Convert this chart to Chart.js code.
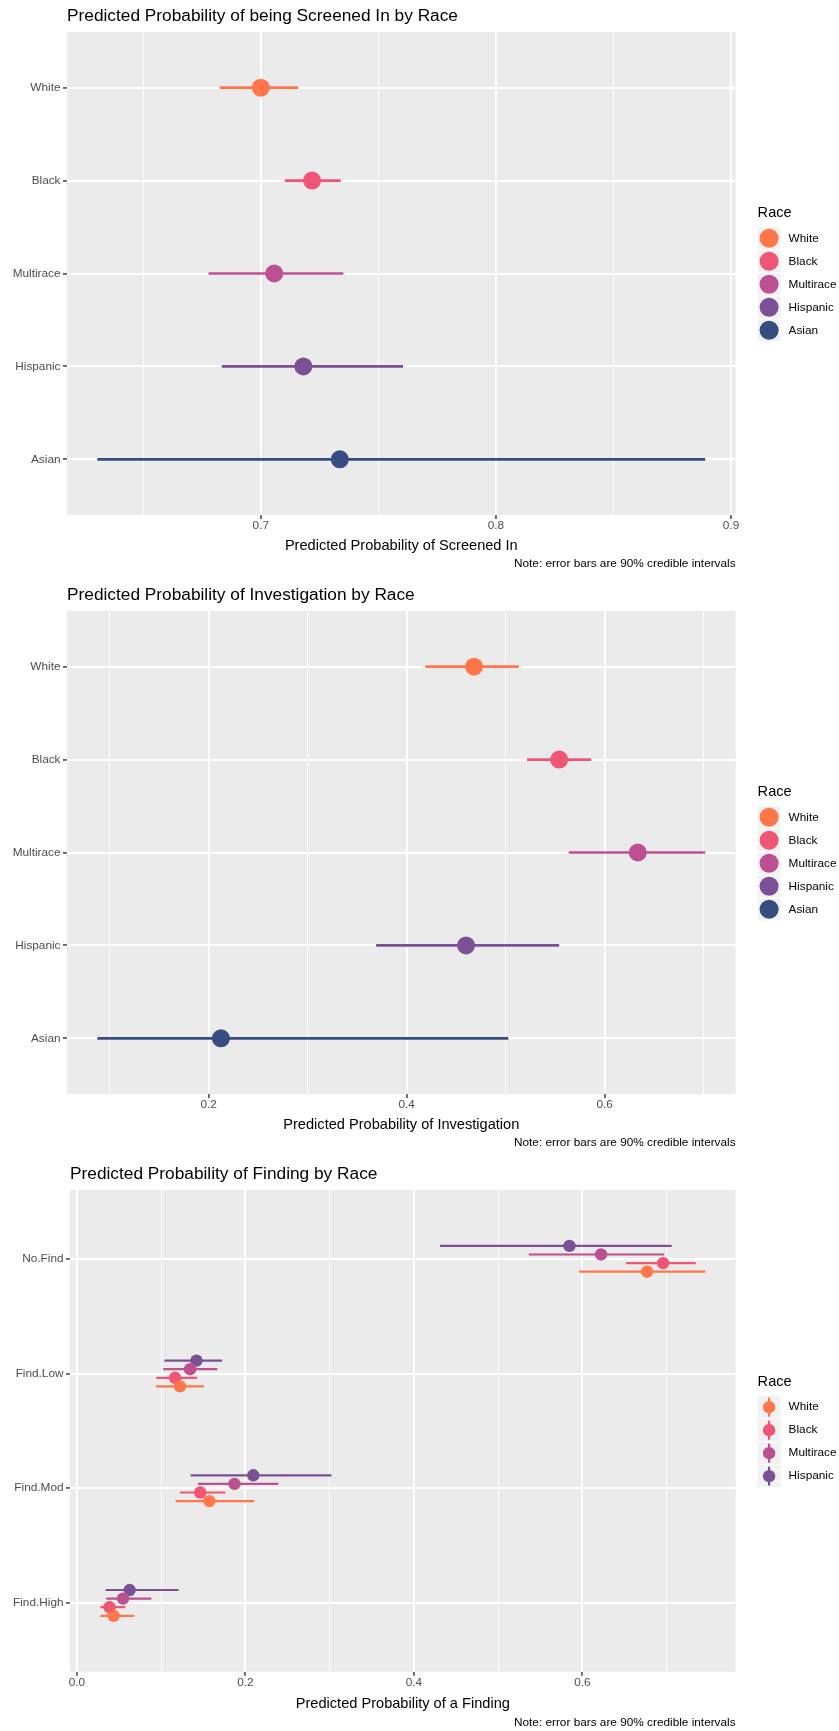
<!DOCTYPE html>
<html>
<head>
<meta charset="utf-8">
<title>Predicted probabilities by race</title>
<script src="https://cdn.jsdelivr.net/npm/chart.js@4.4.1/dist/chart.umd.min.js"></script>
<style>
  html, body { margin: 0; padding: 0; background: #fff; }
  canvas { display: block; }
</style>
</head>
<body>
<canvas id="screenChart" width="839" height="579"></canvas>
<canvas id="investChart" width="839" height="579"></canvas>
<canvas id="findChart" width="839" height="573"></canvas>
<script>
// races and colours shared by the three panels
var races = ['White', 'Black', 'Multirace', 'Hispanic', 'Asian'];
var raceColors = ['#ff764a', '#ef5675', '#bc5090', '#7a5195', '#374c80'];

// panel 1 - screened in (estimate + 90% interval per race)
var screenEst = [0.7000, 0.7218, 0.7057, 0.7181, 0.7336];
var screenLow = [0.6825, 0.7102, 0.6778, 0.6834, 0.6305];
var screenHigh = [0.7159, 0.7340, 0.7351, 0.7605, 0.8890];
var screenTicks = [0.7, 0.8, 0.9];
var screenMinor = [0.65, 0.75, 0.85];

// panel 2 - investigation
var investEst = [0.4681, 0.5541, 0.6335, 0.4600, 0.2124];
var investLow = [0.4189, 0.5216, 0.5638, 0.3692, 0.0876];
var investHigh = [0.5135, 0.5865, 0.7016, 0.5541, 0.5027];
var investTicks = [0.2, 0.4, 0.6];
var investMinor = [0.1, 0.3, 0.5, 0.7];

// panel 3 - finding; one row per race (White, Black, Multirace, Hispanic),
// one column per finding level
var findCats = ['No.Find', 'Find.Low', 'Find.Mod', 'Find.High'];
var findRaces = ['White', 'Black', 'Multirace', 'Hispanic'];
var findEst = [
    [0.6767, 0.1223, 0.1572, 0.0435],
    [0.6958, 0.1165, 0.1464, 0.0387],
    [0.6221, 0.1343, 0.1870, 0.0547],
    [0.5846, 0.1419, 0.2093, 0.0626]
];
var findLow = [
    [0.5961, 0.0937, 0.1172, 0.0277],
    [0.6519, 0.0943, 0.1223, 0.0280],
    [0.5363, 0.1026, 0.1438, 0.0348],
    [0.4309, 0.1038, 0.1349, 0.0340]
];
var findHigh = [
    [0.7459, 0.1508, 0.2105, 0.0681],
    [0.7345, 0.1426, 0.1762, 0.0574],
    [0.6971, 0.1667, 0.2391, 0.0883],
    [0.7059, 0.1724, 0.3020, 0.1207]
];
var findTicks = [0, 0.2, 0.4, 0.6];
var findMinor = [0.1, 0.3, 0.5, 0.7];

var noteText = 'Note: error bars are 90% credible intervals';
var fontFamily = '"Liberation Sans", Arial, Helvetica, sans-serif';

Chart.defaults.font.family = fontFamily;

// grey panel behind the grid
var panelBackground = {
    id: 'panelBackground',
    beforeDraw: function (chart) {
        var a = chart.chartArea;
        var ctx = chart.ctx;
        ctx.save();
        ctx.fillStyle = '#ebebeb';
        ctx.fillRect(a.left, a.top, a.right - a.left, a.bottom - a.top);
        ctx.restore();
    }
};

// ggplot style legend on the right, centred on the panel
var raceLegend = {
    id: 'raceLegend',
    afterDraw: function (chart, args, opts) {
        var ctx = chart.ctx;
        var a = chart.chartArea;
        var keyH = 23, titleH = 21.6;
        var n = opts.labels.length;
        var top = (a.top + a.bottom) / 2 - (titleH + n * keyH) / 2;
        var x = a.right + 22;
        ctx.save();
        ctx.textAlign = 'left';
        ctx.textBaseline = 'middle';
        ctx.fillStyle = '#000';
        ctx.font = '14.6px ' + fontFamily;
        ctx.fillText(opts.title, x, top + 8);
        for (var i = 0; i < n; i++) {
            var ky = top + titleH + i * keyH;
            var cx = x + 11.5, cy = ky + keyH / 2;
            ctx.fillStyle = '#f2f2f2';
            ctx.fillRect(x, ky + 0.5, 23, keyH - 1);
            if (opts.glyph === 'pointrange') {
                ctx.strokeStyle = opts.colors[i];
                ctx.lineWidth = 2.2;
                ctx.beginPath();
                ctx.moveTo(cx, ky + 2);
                ctx.lineTo(cx, ky + keyH - 2);
                ctx.stroke();
            }
            ctx.fillStyle = opts.colors[i];
            ctx.beginPath();
            ctx.arc(cx, cy, opts.radius, 0, Math.PI * 2);
            ctx.fill();
            ctx.fillStyle = '#000';
            ctx.font = '11.8px ' + fontFamily;
            ctx.fillText(opts.labels[i], x + 31, cy);
        }
        ctx.restore();
    }
};

// ggplot adds 5% of the data range on each side
function expandRange(lows, highs) {
    var lo = Math.min.apply(null, lows);
    var hi = Math.max.apply(null, highs);
    var pad = (hi - lo) * 0.05;
    return { min: lo - pad, max: hi + pad };
}

function flat(rows) {
    return [].concat.apply([], rows);
}

function buildChart(canvasId, setup) {
    var range = expandRange(setup.lows, setup.highs);
    var major = setup.ticks;
    var allTicks = major.concat(setup.minor).sort(function (p, q) { return p - q; });

    function isMajor(v) {
        return major.indexOf(v) >= 0;
    }

    return new Chart(document.getElementById(canvasId), {
        type: 'scatter',
        data: { datasets: setup.datasets },
        options: {
            responsive: false,
            animation: false,
            devicePixelRatio: 1,
            events: [],
            layout: {
                padding: { left: 0, right: 103.4, top: 0, bottom: setup.bottomPad }
            },
            scales: {
                x: {
                    type: 'linear',
                    min: range.min,
                    max: range.max,
                    afterBuildTicks: function (scale) {
                        scale.ticks = allTicks.map(function (v) { return { value: v }; });
                    },
                    afterFit: function (scale) {
                        scale.height = setup.axisHeight;
                    },
                    ticks: {
                        autoSkip: false,
                        maxRotation: 0,
                        padding: 0,
                        color: '#4d4d4d',
                        font: { size: 11.8 },
                        callback: function (v) {
                            return isMajor(v) ? v.toFixed(1) : '';
                        }
                    },
                    grid: {
                        color: '#ffffff',
                        lineWidth: function (c) { return isMajor(c.tick.value) ? 1.9 : 0.95; },
                        tickColor: function (c) { return isMajor(c.tick.value) ? '#333333' : 'rgba(0,0,0,0)'; },
                        tickLength: 4,
                        tickWidth: 1.4
                    },
                    border: { display: false },
                    title: {
                        display: true,
                        text: setup.xTitle,
                        color: '#000',
                        font: { size: 14.6 },
                        padding: 0
                    }
                },
                y: {
                    type: 'linear',
                    min: -0.6,
                    max: setup.cats.length - 0.4,
                    reverse: true,
                    afterBuildTicks: function (scale) {
                        scale.ticks = setup.cats.map(function (c, i) { return { value: i }; });
                    },
                    afterFit: function (scale) {
                        scale.width = setup.leftWidth;
                    },
                    ticks: {
                        autoSkip: false,
                        padding: 2.5,
                        color: '#4d4d4d',
                        font: { size: 11.8 },
                        callback: function (v) { return setup.cats[v]; }
                    },
                    grid: {
                        color: '#ffffff',
                        lineWidth: 1.9,
                        tickColor: '#333333',
                        tickLength: 4,
                        tickWidth: 1.4
                    },
                    border: { display: false }
                }
            },
            plugins: {
                legend: { display: false },
                tooltip: { enabled: false },
                title: {
                    display: true,
                    text: setup.title,
                    align: 'start',
                    fullSize: false,
                    color: '#000',
                    font: { size: 17.3, weight: 'normal' },
                    padding: { top: 6.3, bottom: 4.9 }
                },
                subtitle: {
                    display: true,
                    text: noteText,
                    position: 'bottom',
                    align: 'end',
                    fullSize: false,
                    color: '#000',
                    font: { size: 11.8, weight: 'normal' },
                    padding: { top: setup.notePad, bottom: 0 }
                },
                raceLegend: setup.legend
            }
        },
        plugins: [panelBackground, raceLegend]
    });
}

// one point and one horizontal interval per race
function simpleDatasets(est, low, high) {
    var pts = [], bars = [];
    for (var i = 0; i < races.length; i++) {
        pts.push({
            label: races[i],
            data: [{ x: est[i], y: i }],
            backgroundColor: raceColors[i],
            borderColor: raceColors[i],
            pointRadius: 9,
            pointHoverRadius: 9,
            pointBorderWidth: 0,
            order: 0
        });
        bars.push({
            label: races[i] + ' interval',
            data: [{ x: low[i], y: i }, { x: high[i], y: i }],
            showLine: true,
            borderColor: raceColors[i],
            borderWidth: 2.7,
            borderCapStyle: 'butt',
            pointRadius: 0,
            pointHoverRadius: 0,
            order: 1
        });
    }
    return pts.concat(bars);
}

// dodged point ranges (width 0.3) for the finding panel
function findDatasets() {
    var pts = [], bars = [];
    for (var r = 0; r < findRaces.length; r++) {
        var shift = (1.5 - r) * 0.075;
        var pointData = [];
        for (var c = 0; c < findCats.length; c++) {
            pointData.push({ x: findEst[r][c], y: c + shift });
            bars.push({
                label: findRaces[r] + ' ' + findCats[c],
                data: [{ x: findLow[r][c], y: c + shift }, { x: findHigh[r][c], y: c + shift }],
                showLine: true,
                borderColor: raceColors[r],
                borderWidth: 2.2,
                borderCapStyle: 'butt',
                pointRadius: 0,
                pointHoverRadius: 0,
                order: 1
            });
        }
        pts.push({
            label: findRaces[r],
            data: pointData,
            backgroundColor: raceColors[r],
            borderColor: raceColors[r],
            pointRadius: 6.2,
            pointHoverRadius: 6.2,
            pointBorderWidth: 0,
            order: 0
        });
    }
    return pts.concat(bars);
}

buildChart('screenChart', {
    title: 'Predicted Probability of being Screened In by Race',
    xTitle: 'Predicted Probability of Screened In',
    cats: races,
    lows: screenLow,
    highs: screenHigh,
    ticks: screenTicks,
    minor: screenMinor,
    leftWidth: 67,
    axisHeight: 39.5,
    notePad: 2.6,
    bottomPad: 7.7,
    datasets: simpleDatasets(screenEst, screenLow, screenHigh),
    legend: { title: 'Race', labels: races, colors: raceColors, radius: 9.5, glyph: 'point' }
});

buildChart('investChart', {
    title: 'Predicted Probability of Investigation by Race',
    xTitle: 'Predicted Probability of Investigation',
    cats: races,
    lows: investLow,
    highs: investHigh,
    ticks: investTicks,
    minor: investMinor,
    leftWidth: 67,
    axisHeight: 39.5,
    notePad: 2.6,
    bottomPad: 7.7,
    datasets: simpleDatasets(investEst, investLow, investHigh),
    legend: { title: 'Race', labels: races, colors: raceColors, radius: 9.5, glyph: 'point' }
});

buildChart('findChart', {
    title: 'Predicted Probability of Finding by Race',
    xTitle: 'Predicted Probability of a Finding',
    cats: findCats,
    lows: flat(findLow),
    highs: flat(findHigh),
    ticks: findTicks,
    minor: findMinor,
    leftWidth: 70,
    axisHeight: 40.5,
    notePad: 3.5,
    bottomPad: 1.1,
    datasets: findDatasets(),
    legend: { title: 'Race', labels: findRaces, colors: raceColors.slice(0, 4), radius: 6.2, glyph: 'pointrange' }
});
</script>
</body>
</html>
